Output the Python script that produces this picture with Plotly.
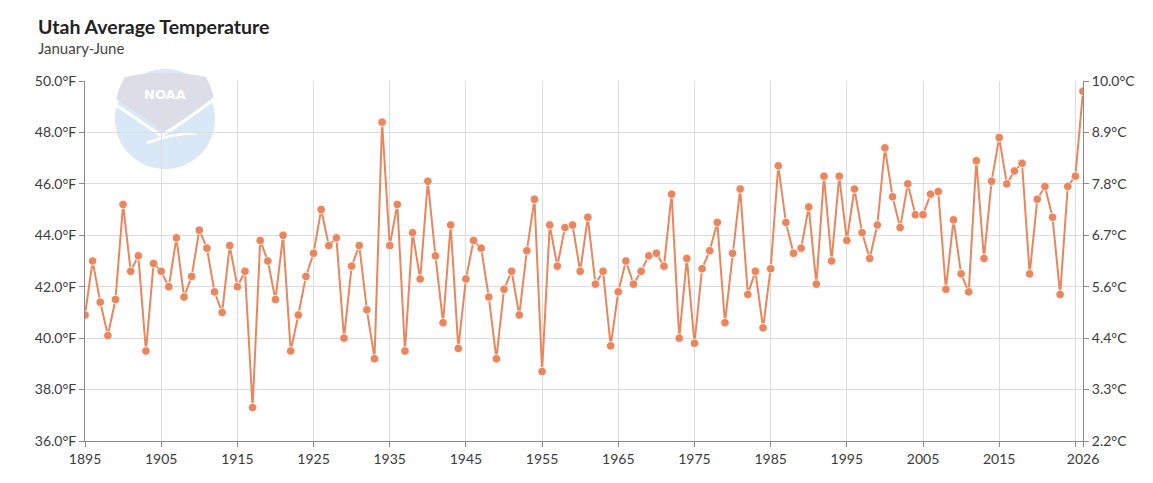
import base64
import plotly.graph_objects as go

years = list(range(1895, 2027))
temps_f = [
    40.9, 43.0, 41.4, 40.1, 41.5, 45.2, 42.6, 43.2, 39.5, 42.9,  # 1895-1904
    42.6, 42.0, 43.9, 41.6, 42.4, 44.2, 43.5, 41.8, 41.0, 43.6,  # 1905-1914
    42.0, 42.6, 37.3, 43.8, 43.0, 41.5, 44.0, 39.5, 40.9, 42.4,  # 1915-1924
    43.3, 45.0, 43.6, 43.9, 40.0, 42.8, 43.6, 41.1, 39.2, 48.4,  # 1925-1934
    43.6, 45.2, 39.5, 44.1, 42.3, 46.1, 43.2, 40.6, 44.4, 39.6,  # 1935-1944
    42.3, 43.8, 43.5, 41.6, 39.2, 41.9, 42.6, 40.9, 43.4, 45.4,  # 1945-1954
    38.7, 44.4, 42.8, 44.3, 44.4, 42.6, 44.7, 42.1, 42.6, 39.7,  # 1955-1964
    41.8, 43.0, 42.1, 42.6, 43.2, 43.3, 42.8, 45.6, 40.0, 43.1,  # 1965-1974
    39.8, 42.7, 43.4, 44.5, 40.6, 43.3, 45.8, 41.7, 42.6, 40.4,  # 1975-1984
    42.7, 46.7, 44.5, 43.3, 43.5, 45.1, 42.1, 46.3, 43.0, 46.3,  # 1985-1994
    43.8, 45.8, 44.1, 43.1, 44.4, 47.4, 45.5, 44.3, 46.0, 44.8,  # 1995-2004
    44.8, 45.6, 45.7, 41.9, 44.6, 42.5, 41.8, 46.9, 43.1, 46.1,  # 2005-2014
    47.8, 46.0, 46.5, 46.8, 42.5, 45.4, 45.9, 44.7, 41.7, 45.9,  # 2015-2024
    46.3, 49.6,                                                  # 2025-2026
]

f_ticks = [36, 38, 40, 42, 44, 46, 48, 50]
c_tick_labels = ["2.2°C", "3.3°C", "4.4°C", "5.6°C", "6.7°C", "7.8°C", "8.9°C", "10.0°C"]
x_tick_vals = [1895, 1905, 1915, 1925, 1935, 1945, 1955, 1965, 1975, 1985, 1995, 2005, 2015, 2025, 2026]
x_tick_text = ["1895", "1905", "1915", "1925", "1935", "1945", "1955", "1965", "1975", "1985",
               "1995", "2005", "2015", "", "2026"]

title_text = "Utah Average Temperature"
subtitle_text = "January-June"

LINE_COLOR = "#e9865d"
FONT = "Lato, 'Open Sans', sans-serif"
TEXT_COLOR = "#3a3a3a"
AXIS_COLOR = "#8a8a8a"
GRID_COLOR = "#dcdcdc"

# Plot area in pixels
L, R, T, B = 85, 1083, 81, 441
W, H = 1153, 483


def px_to_paper_x(px):
    return (px - L) / (R - L)


def px_to_paper_y(py):
    return (B - py) / (B - T)


fig = go.Figure()
fig.add_trace(go.Scatter(
    x=years, y=temps_f, mode="lines+markers",
    line=dict(color=LINE_COLOR, width=2),
    marker=dict(color=LINE_COLOR, size=8.5, line=dict(color="rgba(255,255,255,0.8)", width=1)),
    showlegend=False, hoverinfo="x+y",
))
# invisible trace to anchor the right (Celsius) axis
fig.add_trace(go.Scatter(
    x=years, y=temps_f, yaxis="y2", mode="lines",
    line=dict(width=0, color="rgba(0,0,0,0)"), showlegend=False, hoverinfo="skip",
))

# NOAA watermark logo (background decoration)
svg = """<svg xmlns='http://www.w3.org/2000/svg' width='120' height='120' viewBox='0 0 120 120'>
<circle cx='60' cy='59' r='50' fill='#d9e8f6'/>
<path d='M 20 17 Q 60 8 101 17 Q 106 26 109 37 Q 86 55 58 72 Q 38 56 11 39 Q 14 27 20 17 Z' fill='#dcdde7'/>
<path d='M 8 43 Q 34 60 56 76 Q 82 60 112 37' stroke='white' stroke-width='3' fill='none'/>
<path d='M 42 83 Q 64 74 92 73' stroke='white' stroke-width='2.5' fill='none'/>
</svg>"""
svg_uri = "data:image/svg+xml;base64," + base64.b64encode(svg.encode()).decode()
fig.add_layout_image(dict(
    source=svg_uri, xref="paper", yref="paper",
    x=px_to_paper_x(105), y=px_to_paper_y(60),
    sizex=120 / (R - L), sizey=120 / (B - T),
    xanchor="left", yanchor="top", sizing="stretch", layer="below", opacity=1,
))

fig.update_layout(
    width=W, height=H,
    margin=dict(l=L, r=W - R, t=T, b=H - B),
    paper_bgcolor="white", plot_bgcolor="white",
    font=dict(family=FONT, size=14, color=TEXT_COLOR),
    xaxis=dict(
        range=[1895, 2026], tickvals=x_tick_vals, ticktext=x_tick_text,
        showgrid=True, gridcolor=GRID_COLOR, gridwidth=1,
        showline=True, linecolor=AXIS_COLOR, linewidth=1,
        ticks="outside", ticklen=5, tickcolor=AXIS_COLOR,
        zeroline=False, fixedrange=True,
    ),
    yaxis=dict(
        range=[36, 50], tickvals=f_ticks, ticktext=[f"{v:.1f}°F" for v in f_ticks],
        showgrid=True, gridcolor=GRID_COLOR, gridwidth=1,
        showline=True, linecolor=AXIS_COLOR, linewidth=1,
        ticks="outside", ticklen=5, tickcolor=AXIS_COLOR,
        zeroline=False,
    ),
    yaxis2=dict(
        range=[36, 50], overlaying="y", side="right",
        tickvals=f_ticks, ticktext=c_tick_labels,
        showgrid=False, showline=True, linecolor=AXIS_COLOR, linewidth=1,
        ticks="outside", ticklen=5, tickcolor=AXIS_COLOR,
        zeroline=False,
    ),
    annotations=[
        dict(text="<b>NOAA</b>", x=px_to_paper_x(165), y=px_to_paper_y(95), xref="paper", yref="paper",
             showarrow=False, font=dict(family="DejaVu Sans", size=13, color="white"),
             xanchor="center", yanchor="middle"),
        dict(text=f"<b>{title_text}</b>", x=px_to_paper_x(36), y=px_to_paper_y(26),
             xref="paper", yref="paper", showarrow=False, xanchor="left", yanchor="middle",
             font=dict(family=FONT, size=19.5, color="#222222")),
        dict(text=subtitle_text, x=px_to_paper_x(36), y=px_to_paper_y(48),
             xref="paper", yref="paper", showarrow=False, xanchor="left", yanchor="middle",
             font=dict(family=FONT, size=15, color="#444444")),
    ],
)

fig.write_html("out.html")
